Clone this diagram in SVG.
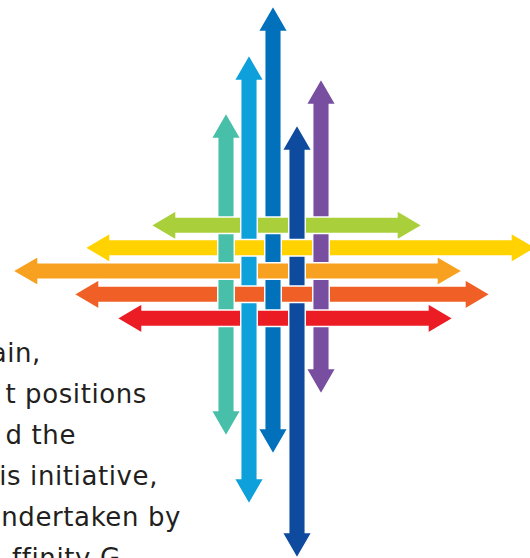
<svg xmlns="http://www.w3.org/2000/svg" width="530" height="558" viewBox="0 0 530 558">
<style>
.ar{stroke:#fff;stroke-width:1.4;stroke-linejoin:miter}
.edge{stroke:#fff;stroke-width:1.4;fill:none}
.teal{fill:#48BFA9}.lblue{fill:#0DA0DB}.mblue{fill:#0171BB}.dblue{fill:#0E4B9E}.purple{fill:#774EA0}
.lime{fill:#A9CF3A}.yellow{fill:#FFD200}.orange{fill:#F8A01F}.ored{fill:#EF5F26}.red{fill:#EC1C24}
.txt{font-family:"DejaVu Sans","Liberation Sans",sans-serif;font-size:26px;letter-spacing:0.6px;fill:#231F20;text-anchor:end}
</style>
<rect width="530" height="558" fill="#fff"/>
<g id="text" class="txt">
<text x="41" y="362">ain,</text>
<text x="147" y="403">t positions</text>
<text x="76" y="444">d the</text>
<text x="158" y="485">is initiative,</text>
<text x="181" y="526">ndertaken by</text>
<text x="12" y="567" style="text-anchor:start">ffinity G</text>
</g>
<g id="horizontal-arrows">
<g id="arrow-lime"><path class="ar lime" d="M151 225.3 L176 210.6 L176 217.05 L397 217.05 L397 210.6 L422 225.3 L397 240 L397 233.55 L176 233.55 L176 240 Z"/></g>
<g id="arrow-yellow"><path class="ar yellow" d="M85 247.8 L110 233.1 L110 239.55 L511 239.55 L511 233.1 L536 247.8 L511 262.5 L511 256.05 L110 256.05 L110 262.5 Z"/></g>
<g id="arrow-orange"><path class="ar orange" d="M13 271 L38 256.3 L38 262.75 L437 262.75 L437 256.3 L462 271 L437 285.7 L437 279.25 L38 279.25 L38 285.7 Z"/></g>
<g id="arrow-orangered"><path class="ar ored" d="M74 294.3 L99 279.6 L99 286.05 L465 286.05 L465 279.6 L490 294.3 L465 309 L465 302.55 L99 302.55 L99 309 Z"/></g>
<g id="arrow-red"><path class="ar red" d="M117 318.3 L142 303.6 L142 310.05 L428 310.05 L428 303.6 L453 318.3 L428 333 L428 326.55 L142 326.55 L142 333 Z"/></g>
</g>
<g id="vertical-arrows">
<g id="arrow-teal"><path class="ar teal" d="M226 113 L240.75 138.5 L234.25 138.5 L234.25 410.5 L240.75 410.5 L226 436 L211.25 410.5 L217.75 410.5 L217.75 138.5 L211.25 138.5 Z"/></g>
<g id="arrow-lightblue"><path class="ar lblue" d="M249 55 L263.75 80.5 L257.25 80.5 L257.25 478.5 L263.75 478.5 L249 504 L234.25 478.5 L240.75 478.5 L240.75 80.5 L234.25 80.5 Z"/></g>
<g id="arrow-midblue"><path class="ar mblue" d="M273 6 L287.75 31.5 L281.25 31.5 L281.25 428.5 L287.75 428.5 L273 454 L258.25 428.5 L264.75 428.5 L264.75 31.5 L258.25 31.5 Z"/></g>
<g id="arrow-darkblue"><path class="ar dblue" d="M297 125 L311.75 150.5 L305.25 150.5 L305.25 532.5 L311.75 532.5 L297 558 L282.25 532.5 L288.75 532.5 L288.75 150.5 L282.25 150.5 Z"/></g>
<g id="arrow-purple"><path class="ar purple" d="M321 79 L335.75 104.5 L329.25 104.5 L329.25 368.5 L335.75 368.5 L321 394 L306.25 368.5 L312.75 368.5 L312.75 104.5 L306.25 104.5 Z"/></g>
</g>
<g id="weave">
<g id="weave-lime">
<rect class="lime" x="216" y="217.05" width="20" height="16.5"/>
<rect class="lime" x="263" y="217.05" width="20" height="16.5"/>
<rect class="lime" x="311" y="217.05" width="20" height="16.5"/>
<path class="edge" d="M216 217.05H236M216 233.55H236M263 217.05H283M263 233.55H283M311 217.05H331M311 233.55H331"/>
</g>
<g id="weave-yellow">
<rect class="yellow" x="239" y="239.55" width="20" height="16.5"/>
<rect class="yellow" x="287" y="239.55" width="20" height="16.5"/>
<path class="edge" d="M239 239.55H259M239 256.05H259M287 239.55H307M287 256.05H307"/>
</g>
<g id="weave-orange">
<rect class="orange" x="216" y="262.75" width="20" height="16.5"/>
<rect class="orange" x="263" y="262.75" width="20" height="16.5"/>
<rect class="orange" x="311" y="262.75" width="20" height="16.5"/>
<path class="edge" d="M216 262.75H236M216 279.25H236M263 262.75H283M263 279.25H283M311 262.75H331M311 279.25H331"/>
</g>
<g id="weave-orangered">
<rect class="ored" x="239" y="286.05" width="20" height="16.5"/>
<rect class="ored" x="287" y="286.05" width="20" height="16.5"/>
<path class="edge" d="M239 286.05H259M239 302.55H259M287 286.05H307M287 302.55H307"/>
</g>
<g id="weave-red">
<rect class="red" x="216" y="310.05" width="20" height="16.5"/>
<rect class="red" x="263" y="310.05" width="20" height="16.5"/>
<rect class="red" x="311" y="310.05" width="20" height="16.5"/>
<path class="edge" d="M216 310.05H236M216 326.55H236M263 310.05H283M263 326.55H283M311 310.05H331M311 326.55H331"/>
</g>
</g>
</svg>
